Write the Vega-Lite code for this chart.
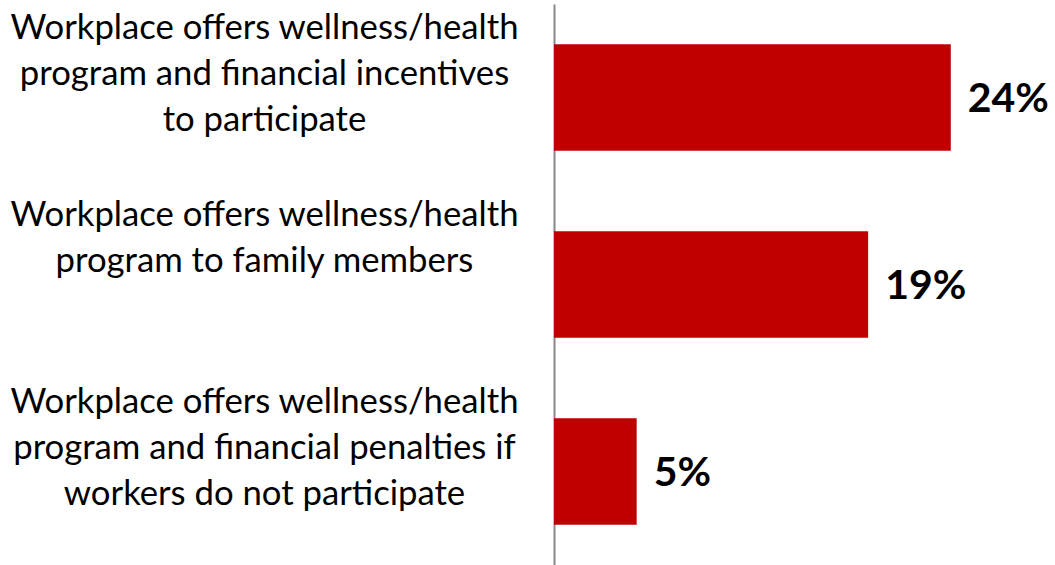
{
  "$schema": "https://vega.github.io/schema/vega-lite/v6.json",
  "width": 496,
  "height": 561,
  "autosize": {"type": "none"},
  "padding": {"left": 554, "top": 4, "right": 5, "bottom": 0},
  "background": "white",
  "config": {"view": {"stroke": null}},
  "data": {
    "values": [
      {"category": "Workplace offers wellness/health|program and financial incentives|to participate", "pct": 0.24},
      {"category": "Workplace offers wellness/health|program to family members", "pct": 0.19},
      {"category": "Workplace offers wellness/health|program and financial penalties if|workers do not participate", "pct": 0.05}
    ]
  },
  "encoding": {
    "y": {
      "field": "category",
      "type": "nominal",
      "sort": null,
      "scale": {"paddingInner": 0.43, "paddingOuter": 0.215},
      "axis": {
        "title": null,
        "ticks": false,
        "domainColor": "#888888",
        "domainWidth": 2,
        "labelExpr": "split(datum.label, '|')",
        "labelAlign": "center",
        "labelBaseline": "alphabetic",
        "labelPadding": 290,
        "labelOffset": -59,
        "labelFont": "Lato",
        "labelFontSize": 34.7,
        "labelLineHeight": 46,
        "labelColor": "#000000",
        "labelLimit": 0
      }
    },
    "x": {
      "field": "pct",
      "type": "quantitative",
      "scale": {"domain": [0, 0.3]},
      "axis": null
    }
  },
  "layer": [
    {"mark": {"type": "bar", "color": "#C00000"}},
    {
      "mark": {"type": "text", "align": "left", "baseline": "middle", "dx": 17, "dy": 2, "font": "Lato", "fontWeight": "bold", "fontSize": 41, "color": "#000000"},
      "encoding": {"text": {"field": "pct", "type": "quantitative", "format": ".0%"}}
    }
  ]
}
